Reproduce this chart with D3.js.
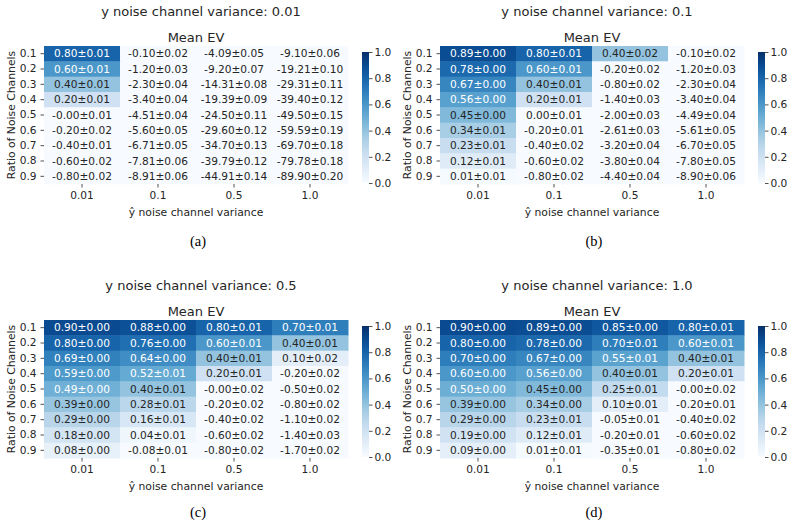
<!DOCTYPE html>
<html>
<head>
<meta charset="utf-8">
<script src="https://cdn.jsdelivr.net/npm/d3@7"></script>
<style>
  body { margin: 0; background: #fff; }
</style>
</head>
<body>
<div id="chart"></div>
<script>
// ratio of noise channels (rows) and y-hat noise variance (columns)
const rows = ["0.1", "0.2", "0.3", "0.4", "0.5", "0.6", "0.7", "0.8", "0.9"];
const cols = ["0.01", "0.1", "0.5", "1.0"];
const yVariance = ["0.01", "0.1", "0.5", "1.0"];
const captions = ["(a)", "(b)", "(c)", "(d)"];
const cbarTicks = [0, 0.2, 0.4, 0.6, 0.8, 1.0];

// mean EV, one row per ratio, one column per y-hat variance
const meanA = [
  [0.80, -0.10, -4.09, -9.10],
  [0.60, -1.20, -9.20, -19.21],
  [0.40, -2.30, -14.31, -29.31],
  [0.20, -3.40, -19.39, -39.40],
  [-0.00, -4.51, -24.50, -49.50],
  [-0.20, -5.60, -29.60, -59.59],
  [-0.40, -6.71, -34.70, -69.70],
  [-0.60, -7.81, -39.79, -79.78],
  [-0.80, -8.91, -44.91, -89.90]
];
const stdA = [
  [0.01, 0.02, 0.05, 0.06],
  [0.01, 0.03, 0.07, 0.10],
  [0.01, 0.04, 0.08, 0.11],
  [0.01, 0.04, 0.09, 0.12],
  [0.01, 0.04, 0.11, 0.15],
  [0.02, 0.05, 0.12, 0.19],
  [0.01, 0.05, 0.13, 0.18],
  [0.02, 0.06, 0.12, 0.18],
  [0.02, 0.06, 0.14, 0.20]
];
const meanB = [
  [0.89, 0.80, 0.40, -0.10],
  [0.78, 0.60, -0.20, -1.20],
  [0.67, 0.40, -0.80, -2.30],
  [0.56, 0.20, -1.40, -3.40],
  [0.45, 0.00, -2.00, -4.49],
  [0.34, -0.20, -2.61, -5.61],
  [0.23, -0.40, -3.20, -6.70],
  [0.12, -0.60, -3.80, -7.80],
  [0.01, -0.80, -4.40, -8.90]
];
const stdB = [
  [0.00, 0.01, 0.02, 0.02],
  [0.00, 0.01, 0.02, 0.03],
  [0.00, 0.01, 0.02, 0.04],
  [0.00, 0.01, 0.03, 0.04],
  [0.00, 0.01, 0.03, 0.04],
  [0.01, 0.01, 0.03, 0.05],
  [0.01, 0.02, 0.04, 0.05],
  [0.01, 0.02, 0.04, 0.05],
  [0.01, 0.02, 0.04, 0.06]
];
const meanC = [
  [0.90, 0.88, 0.80, 0.70],
  [0.80, 0.76, 0.60, 0.40],
  [0.69, 0.64, 0.40, 0.10],
  [0.59, 0.52, 0.20, -0.20],
  [0.49, 0.40, -0.00, -0.50],
  [0.39, 0.28, -0.20, -0.80],
  [0.29, 0.16, -0.40, -1.10],
  [0.18, 0.04, -0.60, -1.40],
  [0.08, -0.08, -0.80, -1.70]
];
const stdC = [
  [0.00, 0.00, 0.01, 0.01],
  [0.00, 0.00, 0.01, 0.01],
  [0.00, 0.00, 0.01, 0.02],
  [0.00, 0.01, 0.01, 0.02],
  [0.00, 0.01, 0.02, 0.02],
  [0.00, 0.01, 0.02, 0.02],
  [0.00, 0.01, 0.02, 0.02],
  [0.00, 0.01, 0.02, 0.03],
  [0.00, 0.01, 0.02, 0.02]
];
const meanD = [
  [0.90, 0.89, 0.85, 0.80],
  [0.80, 0.78, 0.70, 0.60],
  [0.70, 0.67, 0.55, 0.40],
  [0.60, 0.56, 0.40, 0.20],
  [0.50, 0.45, 0.25, -0.00],
  [0.39, 0.34, 0.10, -0.20],
  [0.29, 0.23, -0.05, -0.40],
  [0.19, 0.12, -0.20, -0.60],
  [0.09, 0.01, -0.35, -0.80]
];
const stdD = [
  [0.00, 0.00, 0.00, 0.01],
  [0.00, 0.00, 0.01, 0.01],
  [0.00, 0.00, 0.01, 0.01],
  [0.00, 0.00, 0.01, 0.01],
  [0.00, 0.00, 0.01, 0.02],
  [0.00, 0.00, 0.01, 0.01],
  [0.00, 0.01, 0.01, 0.02],
  [0.00, 0.01, 0.01, 0.02],
  [0.00, 0.01, 0.01, 0.02]
];

const panels = [
  { mean: meanA, std: stdA },
  { mean: meanB, std: stdB },
  { mean: meanC, std: stdC },
  { mean: meanD, std: stdD }
];

const svg = d3.select("#chart")
  .append("svg")
  .attr("width", 793)
  .attr("height", 527)
  .attr("font-family", "DejaVu Sans, sans-serif");

const ink = "#262626";
const color = d3.scaleSequential(d3.interpolateBlues).domain([0, 1]).clamp(true);

// seaborn picks dark or white annotation text from the cell's luminance
function textColor(c) {
  const rgb = d3.rgb(c);
  const lin = v => { v /= 255; return v <= 0.03928 ? v / 12.92 : Math.pow((v + 0.055) / 1.055, 2.4); };
  const lum = 0.2126 * lin(rgb.r) + 0.7152 * lin(rgb.g) + 0.0722 * lin(rgb.b);
  return lum > 0.408 ? ink : "#fff";
}

function fmt(v) {
  const neg = v < 0 || Object.is(v, -0);
  return (neg ? "-" : "") + Math.abs(v).toFixed(2);
}

const x = d3.scaleBand().domain(cols).range([44, 348]);
const y = d3.scaleBand().domain(rows).range([46, 184]);
const cb = d3.scaleLinear().domain([0, 1]).range([183, 52]);

// gradient for the colorbar
const defs = svg.append("defs");
const grad = defs.append("linearGradient")
  .attr("id", "blues")
  .attr("x1", 0).attr("y1", 1).attr("x2", 0).attr("y2", 0);
d3.range(0, 1.001, 0.05).forEach(t => {
  grad.append("stop").attr("offset", t).attr("stop-color", color(t));
});

panels.forEach((p, k) => {
  const ox = (k % 2) * 396;
  const oy = Math.floor(k / 2) * 274;
  const g = svg.append("g").attr("transform", `translate(${ox},${oy})`);

  const cells = [];
  rows.forEach((r, i) => cols.forEach((c, j) => {
    cells.push({ r, c, m: p.mean[i][j], s: p.std[i][j] });
  }));

  g.append("g")
    .selectAll("rect")
    .data(cells)
    .enter().append("rect")
    .attr("x", d => x(d.c))
    .attr("y", d => y(d.r))
    .attr("width", x.bandwidth() + 0.5)
    .attr("height", y.bandwidth() + 0.5)
    .attr("fill", d => color(d.m));

  g.append("g")
    .selectAll("text")
    .data(cells)
    .enter().append("text")
    .attr("x", d => x(d.c) + x.bandwidth() / 2)
    .attr("y", d => y(d.r) + y.bandwidth() / 2)
    .attr("dy", "0.36em")
    .attr("text-anchor", "middle")
    .attr("font-size", 10.6)
    .attr("fill", d => textColor(color(d.m)))
    .text(d => `${fmt(d.m)}±${d.s.toFixed(2)}`);

  // y axis
  const yAxis = g.append("g")
    .attr("transform", "translate(44,0)")
    .call(d3.axisLeft(y).tickSize(3.5).tickPadding(4));
  yAxis.select(".domain").remove();
  yAxis.selectAll("line").attr("stroke", ink).attr("stroke-width", 0.8);
  yAxis.selectAll("text").attr("font-size", 10.6).attr("fill", ink).attr("font-family", "DejaVu Sans, sans-serif");

  // x axis
  const xAxis = g.append("g")
    .attr("transform", "translate(0,184)")
    .call(d3.axisBottom(x).tickSize(3.5).tickPadding(4));
  xAxis.select(".domain").remove();
  xAxis.selectAll("line").attr("stroke", ink).attr("stroke-width", 0.8);
  xAxis.selectAll("text").attr("font-size", 10.6).attr("fill", ink).attr("font-family", "DejaVu Sans, sans-serif");

  g.append("text")
    .attr("x", 196)
    .attr("y", 216)
    .attr("text-anchor", "middle")
    .attr("font-size", 10.8)
    .attr("fill", ink)
    .text("ŷ noise channel variance");

  g.append("text")
    .attr("transform", "translate(15,115)rotate(-90)")
    .attr("text-anchor", "middle")
    .attr("font-size", 10.8)
    .attr("fill", ink)
    .text("Ratio of Noise Channels");

  g.append("text")
    .attr("x", 196)
    .attr("y", 42)
    .attr("text-anchor", "middle")
    .attr("font-size", 13)
    .attr("fill", ink)
    .text("Mean EV");

  g.append("text")
    .attr("x", 201)
    .attr("y", 16)
    .attr("text-anchor", "middle")
    .attr("font-size", 13)
    .attr("fill", ink)
    .text(`y noise channel variance: ${yVariance[k]}`);

  // colorbar
  g.append("rect")
    .attr("x", 362)
    .attr("y", cb(1))
    .attr("width", 7)
    .attr("height", cb(0) - cb(1))
    .attr("fill", "url(#blues)");

  const cAxis = g.append("g")
    .attr("transform", "translate(369,0)")
    .call(d3.axisRight(cb).tickValues(cbarTicks).tickFormat(d3.format(".1f")).tickSize(3.5).tickPadding(2));
  cAxis.select(".domain").remove();
  cAxis.selectAll("line").attr("stroke", ink).attr("stroke-width", 0.8);
  cAxis.selectAll("text").attr("font-size", 10.6).attr("fill", ink).attr("font-family", "DejaVu Sans, sans-serif");

  g.append("text")
    .attr("x", 198)
    .attr("y", 246 - Math.floor(k / 2) * 3)
    .attr("text-anchor", "middle")
    .attr("font-family", "Liberation Serif, serif")
    .attr("font-size", 14.5)
    .attr("fill", "#000")
    .text(captions[k]);
});
</script>
</body>
</html>
